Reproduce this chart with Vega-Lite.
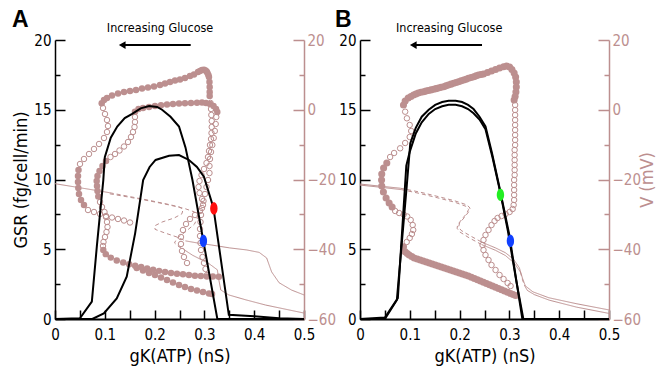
{
"$schema":"https://vega.github.io/schema/vega-lite/v6.json",
"padding":{"left":12,"top":8,"right":22,"bottom":3},
"spacing":-1,
"config":{
 "view":{"stroke":null},
 "font":"'DejaVu Sans Condensed', 'Liberation Sans', sans-serif",
 "axis":{"grid":false,"labelFont":"'DejaVu Sans Condensed', 'Liberation Sans', sans-serif","labelFontSize":15,"titleFont":"'DejaVu Sans Condensed', 'Liberation Sans', sans-serif","titleFontSize":18,"titleFontWeight":"normal","labelColor":"#000","titleColor":"#000","domainColor":"#000","tickColor":"#000","domainWidth":1.5,"tickWidth":1.5,"labelOverlap":false,"labelFlush":false},
 "title":{"font":"Liberation Sans","fontSize":23,"fontWeight":"bold","anchor":"start","frame":"bounds","offset":-10,"color":"#000"}
},
"datasets":{
 "fA":[
  {"g":0.0938,"v":1.85},{"g":0.0984,"v":2.8},{"g":0.1044,"v":3.37},{"g":0.1145,"v":4.09},{"g":0.1265,"v":4.66},{"g":0.1386,"v":5.09},{"g":0.1506,"v":5.38},{"g":0.1627,"v":5.66},{"g":0.1747,"v":6.09},{"g":0.1867,"v":6.38},{"g":0.1988,"v":6.67},{"g":0.2108,"v":7.1},{"g":0.2209,"v":7.53},{"g":0.2309,"v":7.96},{"g":0.241,"v":8.39},{"g":0.251,"v":8.67},{"g":0.261,"v":9.1},{"g":0.2711,"v":9.68},{"g":0.2791,"v":10.11},{"g":0.2871,"v":10.82},{"g":0.2911,"v":11.1},{"g":0.2952,"v":11.4},{"g":0.2992,"v":11.5},{"g":0.3022,"v":11.25},{"g":0.3045,"v":11.0},{"g":0.3062,"v":10.54},{"g":0.308,"v":10.0},{"g":0.3092,"v":9.39},{"g":0.3102,"v":7.96},{"g":0.3106,"v":6.52},{"g":0.3106,"v":5.09},{"g":0.3106,"v":3.94},
  {"g":0.0472,"v":-17.28},{"g":0.0462,"v":-19},{"g":0.0462,"v":-20.72},{"g":0.0468,"v":-22.44},{"g":0.0482,"v":-24.16},{"g":0.0522,"v":-25.88},{"g":0.0582,"v":-27.31},
  {"g":0.1641,"v":-45.38},{"g":0.1767,"v":-46.1},{"g":0.1888,"v":-46.8},{"g":0.2008,"v":-47.38},{"g":0.2129,"v":-48.1},{"g":0.2249,"v":-48.82},{"g":0.2369,"v":-49.53},{"g":0.249,"v":-50.25},{"g":0.261,"v":-50.82},{"g":0.2731,"v":-51.4},{"g":0.2851,"v":-51.83},{"g":0.2972,"v":-52.26},{"g":0.3092,"v":-52.69},{"g":0.3153,"v":-52.83},
  {"g":0.097,"v":-40.2},{"g":0.102,"v":-41.4},{"g":0.112,"v":-42.4},{"g":0.124,"v":-43.2},{"g":0.137,"v":-43.8},{"g":0.149,"v":-44.3},{"g":0.161,"v":-44.7},{"g":0.173,"v":-45.1},{"g":0.185,"v":-45.5},{"g":0.197,"v":-45.9},{"g":0.209,"v":-46.2},{"g":0.221,"v":-46.5},{"g":0.233,"v":-46.8},{"g":0.245,"v":-47},{"g":0.257,"v":-47.2},{"g":0.269,"v":-47.4},{"g":0.281,"v":-47.6},{"g":0.293,"v":-47.7},{"g":0.305,"v":-47.8},{"g":0.317,"v":-47.8},{"g":0.329,"v":-47.9},
  {"g":0.1606,"v":-0.56},{"g":0.1677,"v":0.22},{"g":0.1767,"v":0.5},{"g":0.1888,"v":0.79},{"g":0.2008,"v":1.08},{"g":0.2129,"v":1.28},{"g":0.2249,"v":1.51},{"g":0.2369,"v":1.65},{"g":0.249,"v":1.79},{"g":0.261,"v":1.85},{"g":0.2731,"v":1.94},{"g":0.2851,"v":2.02},{"g":0.2952,"v":2.08},{"g":0.3032,"v":1.94},{"g":0.3112,"v":1.65},{"g":0.3183,"v":1.08},{"g":0.3233,"v":0.22},{"g":0.3259,"v":-0.65},
  {"g":0.1024,"v":-14.7},{"g":0.0954,"v":-16.13},{"g":0.0894,"v":-17.56},{"g":0.0853,"v":-19},{"g":0.0837,"v":-20.43},{"g":0.0843,"v":-21.86},{"g":0.0853,"v":-23.3},{"g":0.0869,"v":-24.87}
 ],
 "oA":[
  {"g":0.3123,"v":1.94},{"g":0.3133,"v":0.22},{"g":0.3139,"v":-1.5},{"g":0.3147,"v":-3.23},{"g":0.3147,"v":-4.95},{"g":0.3143,"v":-6.67},{"g":0.3133,"v":-8.39},{"g":0.3112,"v":-10.11},{"g":0.3092,"v":-11.83},{"g":0.3072,"v":-13.55},{"g":0.3042,"v":-15.27},{"g":0.2992,"v":-16.99},{"g":0.2942,"v":-18.71},{"g":0.2902,"v":-20.43},{"g":0.2882,"v":-22.15},{"g":0.2902,"v":-23.87},{"g":0.2952,"v":-25.59},{"g":0.2972,"v":-27.31},{"g":0.2912,"v":-29.03},{"g":0.2811,"v":-30.18},{"g":0.2711,"v":-31.32},{"g":0.2631,"v":-32.76},{"g":0.257,"v":-34.48},{"g":0.253,"v":-36.49},{"g":0.253,"v":-38.49},{"g":0.255,"v":-40.5},{"g":0.259,"v":-42.22},{"g":0.2651,"v":-43.94},
  {"g":0.0964,"v":0.5},{"g":0.1004,"v":-1.22},{"g":0.1044,"v":-2.94},{"g":0.1064,"v":-4.66},{"g":0.1044,"v":-6.38},{"g":0.0984,"v":-8.1},{"g":0.0884,"v":-9.82},{"g":0.0783,"v":-11.25},{"g":0.0683,"v":-12.69},{"g":0.0582,"v":-14.12},{"g":0.0502,"v":-15.56},
  {"g":0.0663,"v":-28.75},{"g":0.0783,"v":-29.32},{"g":0.0904,"v":-29.89},{"g":0.1024,"v":-30.47},{"g":0.1145,"v":-30.9},{"g":0.1265,"v":-31.32},{"g":0.1386,"v":-31.76},{"g":0.1506,"v":-32.33},
  {"g":0.3239,"v":-2.08},{"g":0.3227,"v":-4.09},{"g":0.3209,"v":-6.09},{"g":0.3187,"v":-8.1},{"g":0.3159,"v":-10.11},{"g":0.3133,"v":-12.11},{"g":0.3112,"v":-14.12},{"g":0.3102,"v":-16.13},{"g":0.3102,"v":-18.14},{"g":0.3072,"v":-20.14},{"g":0.3042,"v":-22.15},{"g":0.3012,"v":-24.16},{"g":0.2982,"v":-26.16},{"g":0.2952,"v":-28.17},{"g":0.2932,"v":-30.18},{"g":0.2922,"v":-32.19},{"g":0.2912,"v":-34.19},{"g":0.2912,"v":-36.2},{"g":0.2922,"v":-38.21},{"g":0.2932,"v":-40.22},{"g":0.2962,"v":-42.22},{"g":0.2992,"v":-43.94},{"g":0.3022,"v":-45.66},{"g":0.3052,"v":-47.38},
  {"g":0.1606,"v":-2.08},{"g":0.1606,"v":-3.51},{"g":0.1596,"v":-4.95},{"g":0.1566,"v":-6.38},{"g":0.1526,"v":-7.81},{"g":0.1466,"v":-9.25},{"g":0.1386,"v":-10.54},{"g":0.1295,"v":-11.68},{"g":0.1205,"v":-12.69},{"g":0.1114,"v":-13.55},
  {"g":0.0904,"v":-26.45},{"g":0.0944,"v":-27.89},{"g":0.0994,"v":-29.32},{"g":0.1024,"v":-30.75},{"g":0.1044,"v":-32.19},{"g":0.1054,"v":-33.62},{"g":0.1034,"v":-35.05},{"g":0.1004,"v":-36.49},{"g":0.0974,"v":-37.92},{"g":0.0964,"v":-39.07}
 ],
 "fB":[
  {"g":0.0873,"v":1.36},{"g":0.0907,"v":2.51},{"g":0.0968,"v":3.37},{"g":0.1022,"v":3.8},{"g":0.1075,"v":4.23},{"g":0.1122,"v":4.5},{"g":0.1169,"v":4.8},{"g":0.1223,"v":5.0},{"g":0.1276,"v":5.18},{"g":0.1324,"v":5.35},{"g":0.1371,"v":5.52},{"g":0.1425,"v":5.69},{"g":0.1478,"v":5.86},{"g":0.1526,"v":6.05},{"g":0.1573,"v":6.24},{"g":0.1626,"v":6.42},{"g":0.1679,"v":6.61},{"g":0.1727,"v":6.85},{"g":0.1774,"v":7.1},{"g":0.1828,"v":7.34},{"g":0.1881,"v":7.58},{"g":0.1929,"v":7.81},{"g":0.1976,"v":8.04},{"g":0.203,"v":8.28},{"g":0.2083,"v":8.53},{"g":0.213,"v":8.77},{"g":0.2177,"v":9.02},{"g":0.2231,"v":9.25},{"g":0.2284,"v":9.48},{"g":0.2332,"v":9.72},{"g":0.2379,"v":9.96},{"g":0.243,"v":10.1},{"g":0.248,"v":10.25},{"g":0.256,"v":10.68},{"g":0.2641,"v":11.11},{"g":0.2722,"v":11.54},{"g":0.2802,"v":11.97},{"g":0.2883,"v":12.34},{"g":0.2944,"v":12.54},{"g":0.3004,"v":12.26},{"g":0.305,"v":11.54},{"g":0.3095,"v":10.54},{"g":0.3125,"v":9.39},{"g":0.3139,"v":7.96},{"g":0.3139,"v":6.52},{"g":0.3131,"v":5.09},{"g":0.3115,"v":3.8},{"g":0.3095,"v":2.8},
  {"g":0.0538,"v":-15.27},{"g":0.0474,"v":-16.7},{"g":0.0437,"v":-18.42},{"g":0.0433,"v":-20.14},{"g":0.0437,"v":-21.86},{"g":0.047,"v":-23.58},{"g":0.0524,"v":-25.3},{"g":0.0585,"v":-26.74},{"g":0.0645,"v":-27.89},
  {"g":0.0873,"v":-39.27},{"g":0.0907,"v":-40.7},{"g":0.0948,"v":-41.2},{"g":0.0988,"v":-41.65},{"g":0.1039,"v":-42.1},{"g":0.1089,"v":-42.51},{"g":0.115,"v":-42.8},{"g":0.121,"v":-43.08},{"g":0.127,"v":-43.37},{"g":0.1331,"v":-43.66},{"g":0.1392,"v":-43.95},{"g":0.1452,"v":-44.23},{"g":0.1513,"v":-44.52},{"g":0.1573,"v":-44.8},{"g":0.1634,"v":-45.09},{"g":0.1694,"v":-45.38},{"g":0.1755,"v":-45.67},{"g":0.1815,"v":-45.95},{"g":0.1875,"v":-46.24},{"g":0.1935,"v":-46.52},{"g":0.1996,"v":-46.81},{"g":0.2056,"v":-47.1},{"g":0.2117,"v":-47.39},{"g":0.2177,"v":-47.67},{"g":0.2238,"v":-48.03},{"g":0.2298,"v":-48.39},{"g":0.2359,"v":-48.75},{"g":0.2419,"v":-49.1},{"g":0.248,"v":-49.46},{"g":0.254,"v":-49.82},{"g":0.2601,"v":-50.18},{"g":0.2661,"v":-50.54},{"g":0.2722,"v":-50.9},{"g":0.2782,"v":-51.25},{"g":0.2843,"v":-51.61},{"g":0.2903,"v":-51.97},{"g":0.2964,"v":-52.33},{"g":0.3024,"v":-52.69},{"g":0.3075,"v":-52.98},{"g":0.3125,"v":-53.26}
 ],
 "oB":[
  {"g":0.3115,"v":1.36},{"g":0.3115,"v":-0.07},{"g":0.3115,"v":-1.51},{"g":0.3115,"v":-2.94},{"g":0.3115,"v":-4.37},{"g":0.3115,"v":-5.81},{"g":0.3115,"v":-7.24},{"g":0.3115,"v":-8.67},{"g":0.3115,"v":-10.11},{"g":0.3105,"v":-11.54},{"g":0.3105,"v":-12.98},{"g":0.3105,"v":-14.41},{"g":0.3105,"v":-15.84},{"g":0.3105,"v":-17.28},{"g":0.3105,"v":-18.71},{"g":0.3095,"v":-20.14},{"g":0.3095,"v":-21.58},{"g":0.3095,"v":-23.01},{"g":0.3095,"v":-24.44},{"g":0.3095,"v":-25.88},{"g":0.3085,"v":-27.31},{"g":0.3065,"v":-28.46},
  {"g":0.3004,"v":-29.32},{"g":0.2923,"v":-29.89},{"g":0.2843,"v":-30.47},{"g":0.2762,"v":-31.04},{"g":0.2702,"v":-31.9},{"g":0.2641,"v":-33.05},{"g":0.2581,"v":-34.48},{"g":0.252,"v":-35.91},{"g":0.248,"v":-37.35},{"g":0.246,"v":-38.78},
  {"g":0.248,"v":-40.22},{"g":0.252,"v":-41.65},{"g":0.2581,"v":-43.08},{"g":0.2641,"v":-44.52},{"g":0.2722,"v":-45.95},{"g":0.2802,"v":-47.38},{"g":0.2883,"v":-48.53},{"g":0.2964,"v":-49.68},{"g":0.3024,"v":-50.54},
  {"g":0.0907,"v":-0.56},{"g":0.0942,"v":-2.45},{"g":0.0998,"v":-4.37},{"g":0.1028,"v":-6.09},{"g":0.0998,"v":-7.81},{"g":0.0907,"v":-9.53},{"g":0.0806,"v":-11.05},{"g":0.0685,"v":-12.4},{"g":0.0605,"v":-13.55},
  {"g":0.0706,"v":-29.03},{"g":0.0786,"v":-29.61},{"g":0.0877,"v":-30.04},{"g":0.0948,"v":-30.61},{"g":0.1018,"v":-31.61},{"g":0.1058,"v":-33.05},{"g":0.1069,"v":-34.48},{"g":0.1042,"v":-35.63},{"g":0.0998,"v":-36.77},{"g":0.0938,"v":-37.92}
 ],
 "ssA":[
  {"c":"a1","d":"s","g":0,"v":-21.2},{"c":"a1","d":"s","g":0.03,"v":-21.9},{"c":"a1","d":"s","g":0.06,"v":-22.6},{"c":"a1","d":"s","g":0.09,"v":-23.3},{"c":"a1","d":"s","g":0.11,"v":-23.8},
  {"c":"a2","d":"d","g":0.11,"v":-23.8},{"c":"a2","d":"d","g":0.15,"v":-24.9},{"c":"a2","d":"d","g":0.19,"v":-26.0},{"c":"a2","d":"d","g":0.23,"v":-27.2},{"c":"a2","d":"d","g":0.25,"v":-27.9},{"c":"a2","d":"d","g":0.257,"v":-28.6},{"c":"a2","d":"d","g":0.255,"v":-29.8},{"c":"a2","d":"d","g":0.24,"v":-31.0},{"c":"a2","d":"d","g":0.215,"v":-32.2},{"c":"a2","d":"d","g":0.2,"v":-33.3},{"c":"a2","d":"d","g":0.201,"v":-34.3},{"c":"a2","d":"d","g":0.22,"v":-35.3},{"c":"a2","d":"d","g":0.245,"v":-36.5},{"c":"a2","d":"d","g":0.262,"v":-37.6},
  {"c":"a3","d":"s","g":0.262,"v":-37.6},{"c":"a3","d":"s","g":0.29,"v":-38.3},{"c":"a3","d":"s","g":0.315,"v":-38.8},{"c":"a3","d":"s","g":0.35,"v":-39.6},{"c":"a3","d":"s","g":0.385,"v":-40.2},{"c":"a3","d":"s","g":0.41,"v":-40.9},{"c":"a3","d":"s","g":0.425,"v":-42.5},{"c":"a3","d":"s","g":0.435,"v":-46.5},{"c":"a3","d":"s","g":0.45,"v":-49.6},{"c":"a3","d":"s","g":0.475,"v":-51.7},{"c":"a3","d":"s","g":0.5,"v":-53.1},
  {"c":"b2","d":"d","g":0.11,"v":-24.1},{"c":"b2","d":"d","g":0.17,"v":-25.6},{"c":"b2","d":"d","g":0.22,"v":-27.0},{"c":"b2","d":"d","g":0.26,"v":-28.3},{"c":"b2","d":"d","g":0.28,"v":-29.3},{"c":"b2","d":"d","g":0.287,"v":-30.8},{"c":"b2","d":"d","g":0.28,"v":-32.8},{"c":"b2","d":"d","g":0.262,"v":-35.0},{"c":"b2","d":"d","g":0.245,"v":-36.8},{"c":"b2","d":"d","g":0.24,"v":-38.2},{"c":"b2","d":"d","g":0.249,"v":-39.3},{"c":"b2","d":"d","g":0.26,"v":-40.2},
  {"c":"b3","d":"s","g":0.26,"v":-40.2},{"c":"b3","d":"s","g":0.276,"v":-41.7},{"c":"b3","d":"s","g":0.309,"v":-44.1},{"c":"b3","d":"s","g":0.326,"v":-45.9},{"c":"b3","d":"s","g":0.329,"v":-48.8},{"c":"b3","d":"s","g":0.333,"v":-51.7},{"c":"b3","d":"s","g":0.349,"v":-53.1},{"c":"b3","d":"s","g":0.383,"v":-54.5},{"c":"b3","d":"s","g":0.423,"v":-56.0},{"c":"b3","d":"s","g":0.5,"v":-58.3}
 ],
 "ssB":[
  {"c":"c1","d":"s","g":0,"v":-21.3},{"c":"c1","d":"s","g":0.04,"v":-21.9},{"c":"c1","d":"s","g":0.081,"v":-22.5},
  {"c":"c2","d":"d","g":0.081,"v":-22.5},{"c":"c2","d":"d","g":0.12,"v":-23.6},{"c":"c2","d":"d","g":0.16,"v":-25.0},{"c":"c2","d":"d","g":0.19,"v":-26.1},{"c":"c2","d":"d","g":0.215,"v":-27.3},{"c":"c2","d":"d","g":0.221,"v":-28.2},{"c":"c2","d":"d","g":0.218,"v":-29.3},{"c":"c2","d":"d","g":0.21,"v":-30.8},{"c":"c2","d":"d","g":0.2,"v":-32.5},{"c":"c2","d":"d","g":0.198,"v":-33.6},{"c":"c2","d":"d","g":0.203,"v":-34.6},{"c":"c2","d":"d","g":0.222,"v":-36.2},{"c":"c2","d":"d","g":0.245,"v":-38.0},
  {"c":"c3","d":"s","g":0.245,"v":-38.0},{"c":"c3","d":"s","g":0.272,"v":-39.6},{"c":"c3","d":"s","g":0.292,"v":-41.0},{"c":"c3","d":"s","g":0.308,"v":-42.8},{"c":"c3","d":"s","g":0.32,"v":-45.3},{"c":"c3","d":"s","g":0.326,"v":-48.2},{"c":"c3","d":"s","g":0.332,"v":-50.5},{"c":"c3","d":"s","g":0.347,"v":-52.2},{"c":"c3","d":"s","g":0.379,"v":-53.9},{"c":"c3","d":"s","g":0.434,"v":-55.6},{"c":"c3","d":"s","g":0.5,"v":-57.4},
  {"c":"d1","d":"s","g":0,"v":-21.6},{"c":"d1","d":"s","g":0.04,"v":-22.2},{"c":"d1","d":"s","g":0.083,"v":-22.9},
  {"c":"d2","d":"d","g":0.083,"v":-22.9},{"c":"d2","d":"d","g":0.12,"v":-24.0},{"c":"d2","d":"d","g":0.16,"v":-25.4},{"c":"d2","d":"d","g":0.19,"v":-26.5},{"c":"d2","d":"d","g":0.213,"v":-27.7},{"c":"d2","d":"d","g":0.218,"v":-28.6},{"c":"d2","d":"d","g":0.214,"v":-29.8},{"c":"d2","d":"d","g":0.205,"v":-31.3},{"c":"d2","d":"d","g":0.196,"v":-33.0},{"c":"d2","d":"d","g":0.195,"v":-34.0},{"c":"d2","d":"d","g":0.2,"v":-35.0},{"c":"d2","d":"d","g":0.22,"v":-36.8},{"c":"d2","d":"d","g":0.245,"v":-38.7},
  {"c":"d3","d":"s","g":0.245,"v":-38.7},{"c":"d3","d":"s","g":0.272,"v":-40.3},{"c":"d3","d":"s","g":0.292,"v":-41.8},{"c":"d3","d":"s","g":0.31,"v":-44.0},{"c":"d3","d":"s","g":0.322,"v":-46.5},
  {"c":"d4","d":"d","g":0.322,"v":-46.5},{"c":"d4","d":"d","g":0.326,"v":-48.6},{"c":"d4","d":"d","g":0.33,"v":-50.3},
  {"c":"d5","d":"s","g":0.33,"v":-50.3},{"c":"d5","d":"s","g":0.336,"v":-51.8},{"c":"d5","d":"s","g":0.35,"v":-53.0},{"c":"d5","d":"s","g":0.38,"v":-54.6},{"c":"d5","d":"s","g":0.435,"v":-56.6},{"c":"d5","d":"s","g":0.5,"v":-58.4}
 ],
 "gsrA":[
  {"c":"t","g":0,"r":0},{"c":"t","g":0.05,"r":0.05},{"c":"t","g":0.074,"r":1.24},{"c":"t","g":0.084,"r":5.2},{"c":"t","g":0.097,"r":9.96},{"c":"t","g":0.1,"r":11.6},{"c":"t","g":0.112,"r":13.0},{"c":"t","g":0.125,"r":13.8},{"c":"t","g":0.14,"r":14.4},{"c":"t","g":0.155,"r":14.7},{"c":"t","g":0.172,"r":15.1},{"c":"t","g":0.189,"r":15.27},{"c":"t","g":0.205,"r":15.2},{"c":"t","g":0.215,"r":15.0},{"c":"t","g":0.232,"r":14.5},{"c":"t","g":0.249,"r":13.8},{"c":"t","g":0.262,"r":12.3},{"c":"t","g":0.276,"r":9.96},{"c":"t","g":0.326,"r":0},{"c":"t","g":0.5,"r":0},
  {"c":"s","g":0,"r":0},{"c":"s","g":0.075,"r":0},{"c":"s","g":0.098,"r":0.4},{"c":"s","g":0.124,"r":1.48},{"c":"s","g":0.144,"r":3.03},{"c":"s","g":0.161,"r":6.16},{"c":"s","g":0.177,"r":9.96},{"c":"s","g":0.19,"r":10.9},{"c":"s","g":0.202,"r":11.4},{"c":"s","g":0.229,"r":11.7},{"c":"s","g":0.249,"r":11.75},{"c":"s","g":0.269,"r":11.4},{"c":"s","g":0.285,"r":10.9},{"c":"s","g":0.299,"r":10.2},{"c":"s","g":0.318,"r":8.0},{"c":"s","g":0.349,"r":0.3},{"c":"s","g":0.4,"r":0.2},{"c":"s","g":0.45,"r":0.05},{"c":"s","g":0.5,"r":0}
 ],
 "gsrB":[
  {"c":"p","g":0,"r":0},{"c":"p","g":0.05,"r":0},{"c":"p","g":0.074,"r":1.36},{"c":"p","g":0.094,"r":9.6},{"c":"p","g":0.101,"r":12.6},{"c":"p","g":0.112,"r":13.7},{"c":"p","g":0.124,"r":14.5},{"c":"p","g":0.138,"r":15.0},{"c":"p","g":0.151,"r":15.35},{"c":"p","g":0.165,"r":15.55},{"c":"p","g":0.178,"r":15.65},{"c":"p","g":0.192,"r":15.65},{"c":"p","g":0.205,"r":15.55},{"c":"p","g":0.217,"r":15.35},{"c":"p","g":0.228,"r":15.05},{"c":"p","g":0.24,"r":14.5},{"c":"p","g":0.252,"r":13.8},{"c":"p","g":0.265,"r":11.9},{"c":"p","g":0.279,"r":9.6},{"c":"p","g":0.3,"r":6.0},{"c":"p","g":0.312,"r":3.2},{"c":"p","g":0.326,"r":0},{"c":"p","g":0.5,"r":0},
  {"c":"q","g":0,"r":0},{"c":"q","g":0.05,"r":0.1},{"c":"q","g":0.076,"r":1.5},{"c":"q","g":0.093,"r":11.0},{"c":"q","g":0.1,"r":12.0},{"c":"q","g":0.112,"r":13.3},{"c":"q","g":0.124,"r":14.1},{"c":"q","g":0.138,"r":14.7},{"c":"q","g":0.151,"r":15.05},{"c":"q","g":0.165,"r":15.25},{"c":"q","g":0.178,"r":15.35},{"c":"q","g":0.192,"r":15.35},{"c":"q","g":0.205,"r":15.25},{"c":"q","g":0.217,"r":15.05},{"c":"q","g":0.228,"r":14.75},{"c":"q","g":0.24,"r":14.3},{"c":"q","g":0.252,"r":13.6},{"c":"q","g":0.266,"r":11.6},{"c":"q","g":0.281,"r":9.2},{"c":"q","g":0.297,"r":6.3},{"c":"q","g":0.314,"r":2.7},{"c":"q","g":0.328,"r":0},{"c":"q","g":0.5,"r":0}
 ],
 "dotsA":[{"c":"red","g":0.319,"r":7.93},{"c":"blue","g":0.298,"r":5.6}],
 "dotsB":[{"c":"green","g":0.282,"r":8.9},{"c":"blue","g":0.302,"r":5.6}],
 "annA":[{"g":0.211,"r":20.88,"label":"Increasing Glucose"}],
 "annB":[{"g":0.179,"r":20.88,"label":"Increasing Glucose"}],
 "arrA":[{"g":0.2725,"g2":0.135,"r":19.64}],
 "arrB":[{"g":0.245,"g2":0.107,"r":19.64}]
},
"hconcat":[
 {
  "title":"A","width":249,"height":279,
  "encoding":{"x":{"field":"g","type":"quantitative","scale":{"domain":[0,0.5],"nice":false,"zero":false},
    "axis":{"values":[0,0.05,0.1,0.15,0.2,0.25,0.3,0.35,0.4,0.45,0.5],"format":"~g","labelExpr":"abs(datum.value*10-round(datum.value*10))<0.01 ? datum.label : ''","tickSize":-9,"labelPadding":17,"title":"gK(ATP)  (nS)","titlePadding":5,"domainWidth":2}}},
  "resolve":{"scale":{"y":"independent"}},
  "layer":[
   {"encoding":{"y":{"field":"v","type":"quantitative","scale":{"domain":[-60,20],"nice":false,"zero":false},
     "axis":{"orient":"right","values":[-60,-50,-40,-30,-20,-10,0,10,20],"labelExpr":"datum.value % 20 == 0 ? datum.label : ''","tickSize":{"condition":{"test":"datum.value % 20 == 0","value":-11},"value":-5},"labelPadding":14,"title":null,"minExtent":25,"maxExtent":25,"domainColor":"#bc8f8f","tickColor":"#bc8f8f","labelColor":"#bc8f8f"}}},
    "layer":[
     {"data":{"name":"ssA"},"mark":{"type":"line","strokeWidth":1,"color":"#bc8f8f"},"encoding":{"detail":{"field":"c"},"strokeDash":{"field":"d","type":"nominal","scale":{"domain":["s","d"],"range":[[1,0],[4,3]]},"legend":null},"order":{"value":null}}},
     {"data":{"name":"fA"},"mark":{"type":"point","shape":"circle","filled":true,"size":42,"color":"#bc8f8f","opacity":1},"encoding":{}},
     {"data":{"name":"oA"},"mark":{"type":"point","shape":"circle","filled":false,"size":30,"strokeWidth":1,"color":"#bc8f8f","opacity":1},"encoding":{}}
    ]},
   {"encoding":{"y":{"field":"r","type":"quantitative","scale":{"domain":[0,20],"nice":false},
     "axis":{"orient":"left","values":[0,2.5,5,7.5,10,12.5,15,17.5,20],"labelExpr":"datum.value % 5 == 0 ? datum.label : ''","tickSize":{"condition":{"test":"datum.value % 5 == 0","value":-10},"value":-5},"labelPadding":14,"title":"GSR (fg/cell/min)","titlePadding":4,"minExtent":21,"maxExtent":21}}},
    "layer":[
     {"data":{"name":"gsrA"},"mark":{"type":"line","strokeWidth":2,"color":"#000"},"encoding":{"detail":{"field":"c"},"order":{"value":null}}},
     {"data":{"name":"dotsA"},"mark":{"type":"point","shape":"M0,-1A0.6,1,0,1,1,0,1A0.6,1,0,1,1,0,-1Z","filled":true,"size":150,"opacity":1,"strokeWidth":0},"encoding":{"color":{"field":"c","type":"nominal","scale":{"domain":["red","blue","green"],"range":["#ff1010","#1040ff","#22ee22"]},"legend":null}}},
     {"data":{"name":"annA"},"mark":{"type":"text","fontSize":12.5,"color":"#000"},"encoding":{"text":{"field":"label"}}},
     {"data":{"name":"arrA"},"mark":{"type":"rule","strokeWidth":2,"color":"#000"},"encoding":{"x2":{"field":"g2"}}},
     {"data":{"name":"arrA"},"mark":{"type":"point","shape":"triangle-left","filled":true,"size":60,"color":"#000","opacity":1},"encoding":{"x":{"field":"g2","type":"quantitative","scale":{"domain":[0,0.5],"nice":false,"zero":false}}}}
    ]}
  ]
 },
 {
  "title":"B","width":249,"height":279,
  "encoding":{"x":{"field":"g","type":"quantitative","scale":{"domain":[0,0.5],"nice":false,"zero":false},
    "axis":{"values":[0,0.05,0.1,0.15,0.2,0.25,0.3,0.35,0.4,0.45,0.5],"format":"~g","labelExpr":"abs(datum.value*10-round(datum.value*10))<0.01 ? datum.label : ''","tickSize":-9,"labelPadding":17,"title":"gK(ATP)  (nS)","titlePadding":5,"domainWidth":2}}},
  "resolve":{"scale":{"y":"independent"}},
  "layer":[
   {"encoding":{"y":{"field":"v","type":"quantitative","scale":{"domain":[-60,20],"nice":false,"zero":false},
     "axis":{"orient":"right","values":[-60,-50,-40,-30,-20,-10,0,10,20],"labelExpr":"datum.value % 20 == 0 ? datum.label : ''","tickSize":{"condition":{"test":"datum.value % 20 == 0","value":-11},"value":-5},"labelPadding":14,"title":"V (mV)","titleAngle":270,"titleBaseline":"middle","titleAlign":"center","titleX":38,"titleY":139.5,"titleColor":"#bc8f8f","minExtent":28,"maxExtent":28,"domainColor":"#bc8f8f","tickColor":"#bc8f8f","labelColor":"#bc8f8f"}}},
    "layer":[
     {"data":{"name":"ssB"},"mark":{"type":"line","strokeWidth":1,"color":"#bc8f8f"},"encoding":{"detail":{"field":"c"},"strokeDash":{"field":"d","type":"nominal","scale":{"domain":["s","d"],"range":[[1,0],[4,3]]},"legend":null},"order":{"value":null}}},
     {"data":{"name":"fB"},"mark":{"type":"point","shape":"circle","filled":true,"size":50,"color":"#bc8f8f","opacity":1},"encoding":{}},
     {"data":{"name":"oB"},"mark":{"type":"point","shape":"circle","filled":false,"size":30,"strokeWidth":1,"color":"#bc8f8f","opacity":1},"encoding":{}}
    ]},
   {"encoding":{"y":{"field":"r","type":"quantitative","scale":{"domain":[0,20],"nice":false},
     "axis":{"orient":"left","values":[0,2.5,5,7.5,10,12.5,15,17.5,20],"labelExpr":"datum.value % 5 == 0 ? datum.label : ''","tickSize":{"condition":{"test":"datum.value % 5 == 0","value":-10},"value":-5},"labelPadding":14,"title":null,"minExtent":25,"maxExtent":25}}},
    "layer":[
     {"data":{"name":"gsrB"},"mark":{"type":"line","strokeWidth":2,"color":"#000"},"encoding":{"detail":{"field":"c"},"order":{"value":null}}},
     {"data":{"name":"dotsB"},"mark":{"type":"point","shape":"M0,-1A0.6,1,0,1,1,0,1A0.6,1,0,1,1,0,-1Z","filled":true,"size":150,"opacity":1,"strokeWidth":0},"encoding":{"color":{"field":"c","type":"nominal","scale":{"domain":["red","blue","green"],"range":["#ff1010","#1040ff","#22ee22"]},"legend":null}}},
     {"data":{"name":"annB"},"mark":{"type":"text","fontSize":12.5,"color":"#000"},"encoding":{"text":{"field":"label"}}},
     {"data":{"name":"arrB"},"mark":{"type":"rule","strokeWidth":2,"color":"#000"},"encoding":{"x2":{"field":"g2"}}},
     {"data":{"name":"arrB"},"mark":{"type":"point","shape":"triangle-left","filled":true,"size":60,"color":"#000","opacity":1},"encoding":{"x":{"field":"g2","type":"quantitative","scale":{"domain":[0,0.5],"nice":false,"zero":false}}}}
    ]}
  ]
 }
]
}
